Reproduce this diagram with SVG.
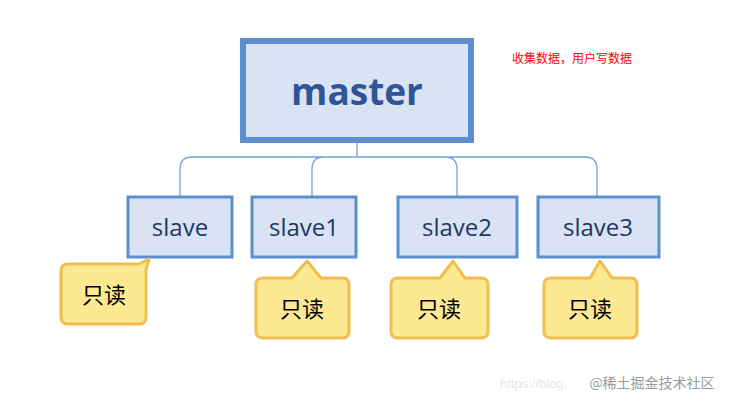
<svg xmlns="http://www.w3.org/2000/svg" width="733" height="406" viewBox="0 0 733 406">
<style>
.box{fill:#dae3f3;stroke:#5b8fd0;stroke-width:3}
.lbl{font-family:"Open Sans","Liberation Sans",sans-serif;font-size:24px;fill:#1f3864;text-anchor:middle}
.call{fill:#fde992;stroke:#f0bd4e;stroke-width:3;stroke-linejoin:round}
.ct{font-family:"Noto Sans CJK SC",sans-serif;font-size:22px;fill:#000;text-anchor:middle}
.con{fill:none;stroke:#7ba3d3;stroke-width:1.3}
</style>
<rect width="733" height="406" fill="#fff"/>
<g id="connectors">
<path class="con" d="M357 143V157M180 196V169Q180 157 192 157H585Q597 157 597 169V196M312 196V169Q312 157 324 157M457 196V169Q457 157 445 157"/>
</g>
<g id="master">
<rect x="243" y="41" width="228" height="99" fill="#dae3f3" stroke="#5b8fd0" stroke-width="6"/>
<text x="357" y="105" font-family="'Open Sans','Liberation Sans',sans-serif" font-size="37" font-weight="bold" fill="#2f5597" text-anchor="middle">master</text>
</g>
<text x="572" y="63" font-family="'Noto Sans CJK SC',sans-serif" font-size="12" fill="#ff0000" text-anchor="middle">收集数据，用户写数据</text>
<g id="slave"><rect class="box" x="128" y="197" width="104" height="60"/><text class="lbl" x="180" y="236">slave</text></g>
<g id="slave1"><rect class="box" x="252" y="197" width="104" height="60"/><text class="lbl" x="304" y="236">slave1</text></g>
<g id="slave2"><rect class="box" x="398" y="197" width="119" height="60"/><text class="lbl" x="457" y="236">slave2</text></g>
<g id="slave3"><rect class="box" x="538" y="197" width="121" height="60"/><text class="lbl" x="598" y="236">slave3</text></g>
<g id="note0"><path class="call" d="M68 264H139L149 259L146 270V317Q146 324 139 324H68Q61 324 61 317V271Q61 264 68 264Z"/><text class="ct" x="104" y="303">只读</text></g>
<g id="note1"><path class="call" d="M263 278H292L307 261L321 278H342Q349 278 349 285V331Q349 338 342 338H263Q256 338 256 331V285Q256 278 263 278Z"/><text class="ct" x="302" y="317">只读</text></g>
<g id="note2"><path class="call" d="M398 278H440L453 261L465 278H481Q488 278 488 285V331Q488 338 481 338H398Q391 338 391 331V285Q391 278 398 278Z"/><text class="ct" x="439" y="317">只读</text></g>
<g id="note3"><path class="call" d="M551 278H590L600 261L612 278H630Q637 278 637 285V331Q637 338 630 338H551Q544 338 544 331V285Q544 278 551 278Z"/><text class="ct" x="590" y="317">只读</text></g>
<text x="500" y="388" font-family="'Liberation Sans',sans-serif" font-size="13" fill="#e6e6e6">https://blog.</text>
<text x="652" y="388" font-family="'Noto Sans CJK SC',sans-serif" font-size="14" fill="#9a9a9a" text-anchor="middle">@稀土掘金技术社区</text>
</svg>
